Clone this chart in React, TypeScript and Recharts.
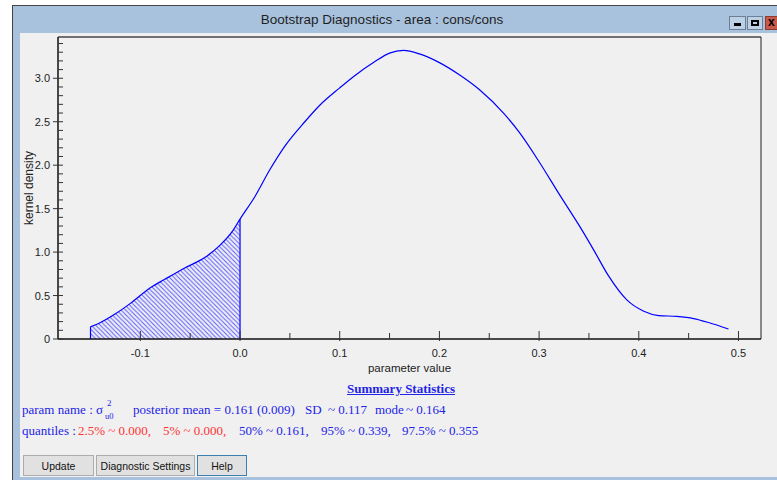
import React from 'react';
import {
  ComposedChart,
  Line,
  Area,
  XAxis,
  YAxis,
  ReferenceLine,
} from 'recharts';

// kernel density estimate
const paramValues = [
  -0.15, -0.14, -0.125, -0.11, -0.09, -0.075, -0.055, -0.035, -0.02, -0.007, 0,
  0.015, 0.03, 0.045, 0.065, 0.08, 0.1, 0.115, 0.135, 0.15, 0.164, 0.18, 0.2,
  0.22, 0.24, 0.265, 0.28, 0.3, 0.32, 0.34, 0.355, 0.37, 0.388, 0.405, 0.42,
  0.438, 0.455, 0.47, 0.49,
];
const densityValues = [
  0.14, 0.19, 0.29, 0.41, 0.59, 0.69, 0.82, 0.94, 1.08, 1.25, 1.38,
  1.64, 1.95, 2.22, 2.5, 2.69, 2.89, 3.03, 3.19, 3.29, 3.32, 3.28, 3.18,
  3.04, 2.87, 2.59, 2.38, 2.04, 1.67, 1.31, 1.02, 0.72, 0.45, 0.32, 0.27,
  0.26, 0.235, 0.19, 0.115,
];

// tail shaded below this value
const shadeTo = 0;

const xMajorTicks = [-0.1, 0, 0.1, 0.2, 0.3, 0.4, 0.5];
const xMajorLabels = ['-0.1', '0.0', '0.1', '0.2', '0.3', '0.4', '0.5'];
const xMinorTicks = [-0.05, 0.05, 0.15, 0.25, 0.35, 0.45];
const yMajorTicks = [0, 0.5, 1, 1.5, 2, 2.5, 3];
const yMajorLabels = ['0', '0.5', '1.0', '1.5', '2.0', '2.5', '3.0'];
const yMinorStep = 0.1;
const xDomain: [number, number] = [-0.1826, 0.5226];
const yDomain: [number, number] = [0, 3.475];

const data = paramValues.map((x, i) => ({ x, y: densityValues[i] }));
const shadeData = data.filter((d) => d.x <= shadeTo);
const shadeTop = shadeData[shadeData.length - 1];
const shadeStart = shadeData[0];

const yTicks = Array.from(
  { length: Math.floor(yDomain[1] / yMinorStep) + 1 },
  (_, i) => Math.round(i * yMinorStep * 10) / 10
);
const xTicks = [...xMajorTicks, ...xMinorTicks].sort((a, b) => a - b);

const findLabel = (v: number, ticks: number[], labels: string[]) => {
  const i = ticks.findIndex((t) => Math.abs(t - v) < 1e-6);
  return i >= 0 ? labels[i] : null;
};

const axisFont = '"Liberation Sans", Arial, sans-serif';
const blue = '#0000ff';
const textBlue = '#2323e6';
const textRed = '#ff3333';

const YTick = (props: any) => {
  const { x, y, payload } = props;
  const label = findLabel(payload.value, yMajorTicks, yMajorLabels);
  return (
    <g>
      <line x1={x} x2={x + 5} y1={y} y2={y} stroke="#333" />
      {label !== null && <line x1={x - 5} x2={x} y1={y} y2={y} stroke="#333" />}
      {label !== null && (
        <text x={x - 8} y={y} dy={4} textAnchor="end" fontSize={11} fontFamily={axisFont} fill="#222">
          {label}
        </text>
      )}
    </g>
  );
};

const XTick = (props: any) => {
  const { x, y, payload } = props;
  const label = findLabel(payload.value, xMajorTicks, xMajorLabels);
  return (
    <g>
      {label !== null ? (
        <line x1={x} x2={x} y1={y - 8} y2={y + 2} stroke="#333" />
      ) : (
        <line x1={x} x2={x} y1={y - 6} y2={y} stroke="#333" />
      )}
      {label !== null && (
        <text x={x} y={y} dy={18} textAnchor="middle" fontSize={11} fontFamily={axisFont} fill="#222">
          {label}
        </text>
      )}
    </g>
  );
};

const btn: React.CSSProperties = {
  position: 'absolute',
  top: 455,
  height: 21,
  boxSizing: 'border-box',
  background: '#e1e1e1',
  border: '1px solid #adadad',
  fontFamily: axisFont,
  fontSize: 10.5,
  color: '#111',
  display: 'flex',
  alignItems: 'center',
  justifyContent: 'center',
};

const titleBtn: React.CSSProperties = {
  position: 'absolute',
  top: 16,
  height: 14,
  boxSizing: 'border-box',
  border: '1px solid #6d7f96',
  background: '#bcd0e6',
};

const serif = '"Liberation Serif", "Times New Roman", serif';
const stat: React.CSSProperties = { position: 'absolute', fontFamily: serif, fontSize: 13, color: textBlue, whiteSpace: 'pre' };

export default function App() {
  return (
    <div style={{ position: 'absolute', left: 0, top: 0, width: 777, height: 480, background: '#fff', overflow: 'hidden' }}>
      {/* window frame + title bar */}
      <div
        style={{
          position: 'absolute', left: 12, top: 5, width: 765, height: 475, background: '#a8c2dd',
          borderLeft: '1px solid #444', borderTop: '1px solid #444', boxSizing: 'border-box',
        }}
      />
      <div
        style={{
          position: 'absolute', left: 12, top: 6, width: 740, height: 27, textAlign: 'center', lineHeight: '28px',
          fontFamily: '"Liberation Sans", Arial, sans-serif', fontSize: 13.5, color: '#1e1e1e',
        }}
      >
        Bootstrap Diagnostics - area : cons/cons
      </div>
      <div style={{ ...titleBtn, left: 729, width: 17 }}>
        <div style={{ position: 'absolute', left: 4, top: 6, width: 7, height: 3, background: '#000' }} />
      </div>
      <div style={{ ...titleBtn, left: 747, width: 16 }}>
        <div style={{ position: 'absolute', left: 3, top: 3, width: 8, height: 6, boxSizing: 'border-box', border: '2px solid #000' }} />
      </div>
      <div style={{ ...titleBtn, left: 765, width: 14, background: '#c8584a', border: '1px solid #8a3b33' }}>
        <div style={{ position: 'absolute', left: 2, top: -2, fontFamily: axisFont, fontWeight: 'bold', fontSize: 12, color: '#000' }}>x</div>
      </div>
      <div style={{ position: 'absolute', left: 20, top: 33, width: 757, height: 444, background: '#f0f0f0' }} />

      {/* chart */}
      <div style={{ position: 'absolute', left: 0, top: 0 }}>
        <ComposedChart width={777} height={380} margin={{ top: 37, right: 16, left: 0, bottom: 0 }}>
          <defs>
            <pattern id="hatch" patternUnits="userSpaceOnUse" width={4.5} height={4.5}>
              <path d="M0,0 L4.5,4.5 M-1,3.5 L1,5.5 M3.5,-1 L5.5,1" stroke="#5a5aff" strokeWidth={1} />
            </pattern>
          </defs>
          <XAxis
            type="number"
            dataKey="x"
            domain={xDomain}
            allowDataOverflow
            ticks={xTicks}
            interval={0}
            tickSize={0}
            tickMargin={0}
            tickLine={false}
            tick={<XTick />}
            height={41}
            axisLine={{ stroke: '#111', strokeWidth: 1.5 }}
            label={{ value: 'parameter value', position: 'insideBottom', offset: 8, fontSize: 11.5, fontFamily: axisFont, fill: '#222' }}
          />
          <YAxis
            type="number"
            domain={yDomain}
            allowDataOverflow
            ticks={yTicks}
            interval={0}
            tickSize={0}
            tickMargin={0}
            tickLine={false}
            tick={<YTick />}
            width={58}
            axisLine={{ stroke: '#111', strokeWidth: 1.5 }}
            label={{ value: 'kernel density', angle: -90, position: 'center', fontSize: 12, fontFamily: axisFont, fill: '#222' }}
          />
          <ReferenceLine y={yDomain[1]} stroke="#707070" strokeWidth={2} />
          <ReferenceLine x={xDomain[1]} stroke="#222" strokeWidth={1} />
          <Area
            data={shadeData}
            dataKey="y"
            type="monotone"
            fill="url(#hatch)"
            fillOpacity={1}
            stroke="none"
            isAnimationActive={false}
          />
          <ReferenceLine
            segment={[{ x: shadeTop.x, y: 0 }, { x: shadeTop.x, y: shadeTop.y }]}
            stroke={blue}
            strokeWidth={1.2}
          />
          <ReferenceLine
            segment={[{ x: shadeStart.x, y: 0 }, { x: shadeStart.x, y: shadeStart.y }]}
            stroke={blue}
            strokeWidth={1.2}
          />
          <Line
            data={data}
            dataKey="y"
            type="monotone"
            stroke={blue}
            strokeWidth={1.2}
            dot={false}
            activeDot={false}
            isAnimationActive={false}
          />
        </ComposedChart>
      </div>

      {/* summary statistics */}
      <div
        style={{
          position: 'absolute', left: 347, top: 381, fontFamily: serif, fontWeight: 'bold', fontSize: 13,
          color: textBlue, textDecoration: 'underline',
        }}
      >
        Summary Statistics
      </div>
      <div style={{ ...stat, left: 22, top: 402 }}>
        param name : σ
        <span style={{ position: 'absolute', left: 85, top: -4, fontSize: 9 }}>2</span>
        <span style={{ position: 'absolute', left: 83, top: 9, fontSize: 8.5 }}>u0</span>
      </div>
      <div style={{ ...stat, left: 133, top: 402 }}>posterior mean = 0.161 (0.009)</div>
      <div style={{ ...stat, left: 305, top: 402 }}>SD</div>
      <div style={{ ...stat, left: 328, top: 402 }}>~ 0.117</div>
      <div style={{ ...stat, left: 375, top: 402 }}>mode</div>
      <div style={{ ...stat, left: 406, top: 402 }}>~ 0.164</div>

      <div style={{ ...stat, left: 22, top: 423 }}>quantiles : </div>
      <div style={{ ...stat, left: 78, top: 423, color: textRed }}>2.5% ~ 0.000,</div>
      <div style={{ ...stat, left: 163, top: 423, color: textRed }}>5% ~ 0.000,</div>
      <div style={{ ...stat, left: 239, top: 423 }}>50% ~ 0.161,</div>
      <div style={{ ...stat, left: 321, top: 423 }}>95% ~ 0.339,</div>
      <div style={{ ...stat, left: 402, top: 423 }}>97.5% ~ 0.355</div>

      {/* buttons */}
      <div style={{ ...btn, left: 23, width: 71 }}>Update</div>
      <div style={{ ...btn, left: 96, width: 99 }}>Diagnostic Settings</div>
      <div style={{ ...btn, left: 197, width: 50, border: '1px solid #3c7fb1' }}>Help</div>
    </div>
  );
}
